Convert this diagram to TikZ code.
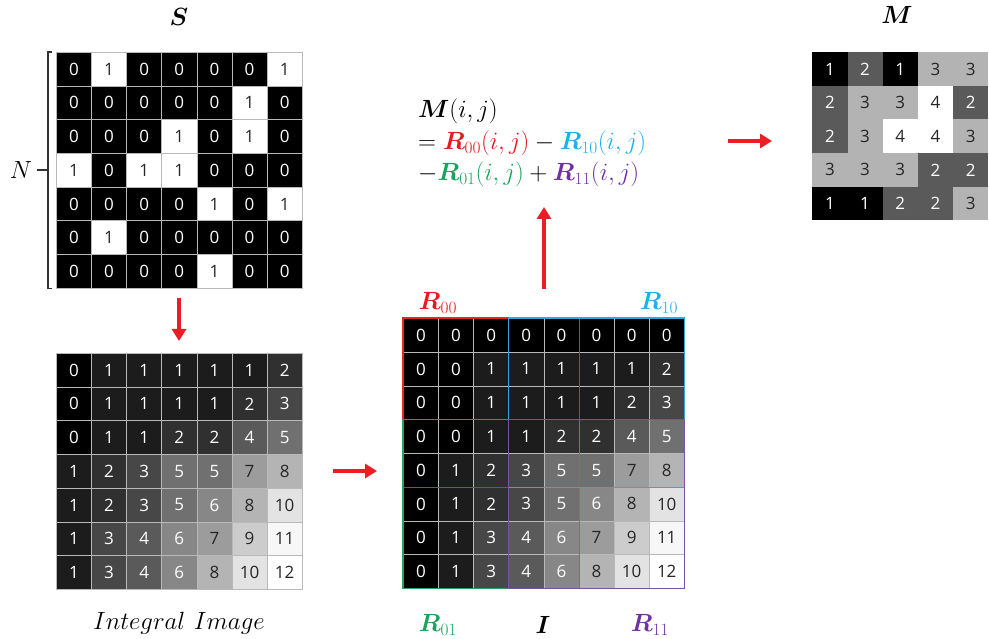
\documentclass[tikz,border=0pt]{standalone}
\usepackage{amsmath,bm}
\usepackage{fontspec}
\newfontfamily\cellfont{Open Sans}
\usetikzlibrary{arrows.meta}
\definecolor{g0}{HTML}{000000}\definecolor{g1}{HTML}{1C1C1C}\definecolor{g2}{HTML}{303030}
\definecolor{g3}{HTML}{474747}\definecolor{g4}{HTML}{5A5A5A}\definecolor{g5}{HTML}{707070}
\definecolor{g6}{HTML}{878787}\definecolor{g7}{HTML}{9C9C9C}\definecolor{g8}{HTML}{B4B4B4}
\definecolor{g9}{HTML}{CCCCCC}\definecolor{g10}{HTML}{E3E3E3}\definecolor{g11}{HTML}{F7F7F7}
\definecolor{g12}{HTML}{FFFFFF}
\definecolor{dk}{HTML}{262626}
\colorlet{t0}{white}\colorlet{t1}{white}\colorlet{t2}{white}\colorlet{t3}{white}
\colorlet{t4}{white}\colorlet{t5}{white}\colorlet{t6}{white}\colorlet{t7}{dk}
\colorlet{t8}{dk}\colorlet{t9}{dk}\colorlet{t10}{dk}\colorlet{t11}{dk}\colorlet{t12}{dk}
\colorlet{s0}{black}\colorlet{s1}{white}\colorlet{st0}{white}\colorlet{st1}{dk}
\colorlet{m1}{black}\definecolor{m2}{HTML}{5A5A5A}\definecolor{m3}{HTML}{B3B3B3}\colorlet{m4}{white}
\colorlet{mt1}{white}\colorlet{mt2}{white}\colorlet{mt3}{dk}\colorlet{mt4}{dk}
\definecolor{cR}{HTML}{E8191F}\definecolor{cB}{HTML}{1FB0EC}
\definecolor{cG}{HTML}{1AA35C}\definecolor{cP}{HTML}{7030A0}
\definecolor{lR}{HTML}{E02828}\definecolor{lB}{HTML}{30A8E0}
\definecolor{lG}{HTML}{28A060}\definecolor{lP}{HTML}{7A50A8}
\definecolor{arrred}{HTML}{EE1C25}
\begin{document}
\begin{tikzpicture}[x=1pt,y=-1pt,
  cell/.style={draw=gray!55, line width=0.6pt, inner sep=0pt, minimum width=35.14pt,
    minimum height=33.7pt, anchor=north west, font=\cellfont\fontsize{17}{17}\selectfont},
  val/.style={fill=g#1, text=t#1},
  sval/.style={fill=s#1, text=st#1},
  mval/.style={fill=m#1, text=mt#1},
  arr/.style={draw=arrred, line width=4.5pt, -{Triangle[length=12pt,width=14pt]}},
  rect/.style={line width=1.3pt},
  lab/.style={inner sep=0pt, font=\fontsize{25}{25}\selectfont},
  frm/.style={inner sep=0pt, anchor=base west, font=\fontsize{24}{24}\selectfont}]
\useasboundingbox (0,0) rectangle (989,639);
% S grid
\foreach \row [count=\r from 0] in {{0,1,0,0,0,0,1},{0,0,0,0,0,1,0},{0,0,0,1,0,1,0},{1,0,1,1,0,0,0},{0,0,0,0,1,0,1},{0,1,0,0,0,0,0},{0,0,0,0,1,0,0}}{
  \foreach \v [count=\c from 0] in \row {
    \node[cell, sval=\v] (S-\r-\c) at (56+\c*35.14, 52+\r*33.7) {\v};
  }
}
% Integral image
\foreach \row [count=\r from 0] in {{0,1,1,1,1,1,2},{0,1,1,1,1,2,3},{0,1,1,2,2,4,5},{1,2,3,5,5,7,8},{1,2,3,5,6,8,10},{1,3,4,6,7,9,11},{1,3,4,6,8,10,12}}{
  \foreach \v [count=\c from 0] in \row {
    \node[cell, val=\v] (II-\r-\c) at (56+\c*35.14, 353+\r*33.7) {\v};
  }
}
% I grid
\foreach \row [count=\r from 0] in {{0,0,0,0,0,0,0,0},{0,0,1,1,1,1,1,2},{0,0,1,1,1,1,2,3},{0,0,1,1,2,2,4,5},{0,1,2,3,5,5,7,8},{0,1,2,3,5,6,8,10},{0,1,3,4,6,7,9,11},{0,1,3,4,6,8,10,12}}{
  \foreach \v [count=\c from 0] in \row {
    \node[cell, val=\v, minimum width=35.125pt, minimum height=33.75pt] (I-\r-\c) at (403+\c*35.125, 318+\r*33.75) {\v};
  }
}
% M grid
\foreach \row [count=\r from 0] in {{1,2,1,3,3},{2,3,3,4,2},{2,3,4,4,3},{3,3,3,2,2},{1,1,2,2,3}}{
  \foreach \v [count=\c from 0] in \row {
    \node[cell, mval=\v, draw=none, minimum width=35.2pt, minimum height=33.6pt] (M-\r-\c) at (812+\c*35.2, 52+\r*33.6) {\v};
  }
}
% region rectangles
\draw[rect, lR] (I-0-0.north west) rectangle (I-4-4.south east);
\draw[rect, lG] (I-3-0.north west) rectangle (I-7-4.south east);
\draw[rect, lB] (I-0-3.north west) rectangle (I-4-7.south east);
\draw[rect, lP] (I-3-3.north west) rectangle (I-7-7.south east);
% bracket and N
\draw[line width=1.1pt, draw=black!80] (S-0-0.north west) ++(-4,0) coordinate (bt) -- ++(-4,0) |- ([xshift=-8pt]S-6-0.south west) -- ++(4,0);
\coordinate (bm) at (48,170);
\node[lab, font=\fontsize{24}{24}\selectfont] (N) at (21,170) {$N$};
\draw[line width=1.1pt, draw=black!80] (N.east) ++(5,0) coordinate (nt) -- (bm);
% labels
\node[lab] (Slab) at (179,17) {$\bm{S}$};
\node[lab] (Mlab) at (897,15) {$\bm{M}$};
\node[lab, font=\fontsize{29}{29}\selectfont] (IIlab) at (179,623) {$Integral\ Image$};
\node[lab, text=cR] (R00) at (438,303) {$\bm{R}_{00}$};
\node[lab, text=cB] (R10) at (659,303) {$\bm{R}_{10}$};
\node[lab, text=cG] (R01) at (438,625) {$\bm{R}_{01}$};
\node[lab] (Ilab) at (543,625) {$\bm{I}$};
\node[lab, text=cP] (R11) at (650,625) {$\bm{R}_{11}$};
% formula
\node[frm] (F1) at (418,118) {$\bm{M}(i,j)$};
\node[frm] (F2) at (418,150) {$=\textcolor{cR}{\bm{R}_{00}(i,j)}-\textcolor{cB}{\bm{R}_{10}(i,j)}$};
\node[frm] (F3) at (418,181) {$-\textcolor{cG}{\bm{R}_{01}(i,j)}+\textcolor{cP}{\bm{R}_{11}(i,j)}$};
% arrows
\coordinate (a1s) at (179,298); \coordinate (a1e) at (179,341);
\coordinate (a2s) at (333,471); \coordinate (a2e) at (377,471);
\coordinate (a3s) at (544,289); \coordinate (a3e) at (544,207);
\coordinate (a4s) at (728,141); \coordinate (a4e) at (772,141);
\draw[arr] (a1s) -- (a1e);
\draw[arr] (a2s) -- (a2e);
\draw[arr] (a3s) -- (a3e);
\draw[arr] (a4s) -- (a4e);
\end{tikzpicture}
\end{document}
